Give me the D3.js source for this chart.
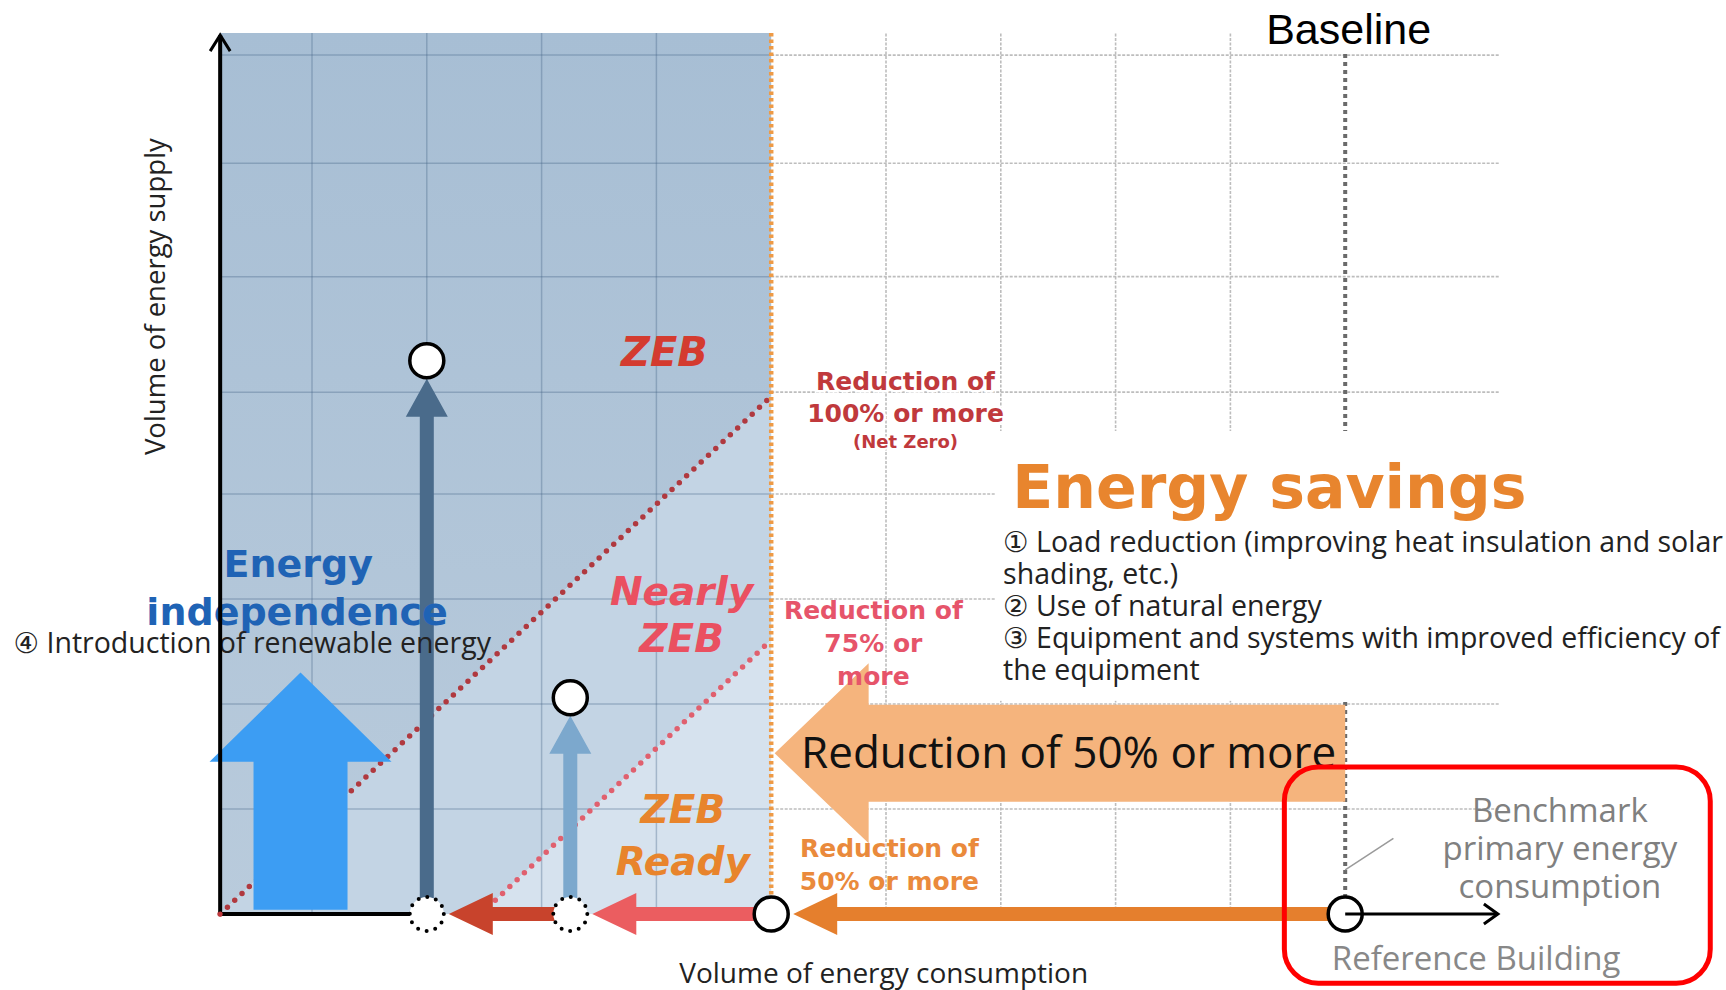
<!DOCTYPE html>
<html>
<head>
<meta charset="utf-8">
<script src="https://cdn.jsdelivr.net/npm/d3@7/dist/d3.min.js"></script>
<style>
  html, body { margin: 0; padding: 0; background: #fff; }
  svg { display: block; }
</style>
</head>
<body>
<svg id="chart" width="1726" height="990"></svg>
<script>
// ---- values (grid units) ----
var gridX = [1, 2, 3, 4, 6, 7, 8, 9];
var gridY = [1, 2, 3, 4, 4.97, 6.07, 7.15, 8.18];
var axisX0 = 0.2, zoneRight = 5, baselineX = 10, gridRight = 11.35, zoneTop = 8.39;

// dotted threshold lines: x where they meet the axis, y where they meet the ZEB line
var thresholds = [
  {name: 'zeb',    x0: 0.2,  y1: 4.93, color: '#b0393f'},
  {name: 'nearly', x0: 2.47, y1: 2.61, color: '#e0606e'}
];

// circles on the consumption axis
var nodes = [
  {x: 2,    dotted: true},
  {x: 3.25, dotted: true},
  {x: 5,    dotted: false},
  {x: 10,   dotted: false}
];

// supply (up) arrows ending in a circle
var supplyArrows = [
  {x: 2,    top: 5.27, color: '#4a6b8b'},
  {x: 3.25, top: 2.06, color: '#7ca8cd'}
];

// saving (left) arrows along the axis
var savingArrows = [
  {from: 10,   to: 5,    color: '#e57f2d'},
  {from: 5,    to: 3.25, color: '#eb5d60'},
  {from: 3.25, to: 2,    color: '#c8432c'}
];

var renewable = {x: 0.9, tip: 2.3, headBase: 1.45, bottom: 0.04};
var bigSaving = {from: 10, to: 5.03, y: 1.53};

var savingMeasures = [
  '\u2460 Load reduction (improving heat insulation and solar',
  'shading, etc.)',
  '\u2461 Use of natural energy',
  '\u2462 Equipment and systems with improved efficiency of',
  'the equipment'
];

// ---- scales ----
var svg = d3.select('#chart');
var x = d3.scaleLinear().domain([0, 10]).range([197.2, 1345.2]);
var y = d3.scaleLinear().domain([0, 8]).range([914, 74]);
var R = 17;
var line = d3.line().x(function(d){ return x(d[0]); }).y(function(d){ return y(d[1]); });

var defs = svg.append('defs');
var grad = defs.append('linearGradient').attr('id', 'zoneDark')
  .attr('x1', 0).attr('y1', 0).attr('x2', 0).attr('y2', 1);
grad.append('stop').attr('offset', '0%').attr('stop-color', '#a7bed4');
grad.append('stop').attr('offset', '100%').attr('stop-color', '#b9cbdc');

// ---- white area grid ----
var gWhite = svg.append('g').attr('class', 'grid-white')
  .attr('stroke', '#bdbdbd').attr('stroke-width', 1.6).attr('stroke-dasharray', '3 1.5');
gWhite.selectAll('line.v').data(gridX.filter(function(d){ return d > zoneRight; }))
  .enter().append('line').attr('class', 'v')
  .attr('x1', function(d){ return x(d); }).attr('x2', function(d){ return x(d); })
  .attr('y1', y(0)).attr('y2', y(zoneTop));
gWhite.selectAll('line.h').data(gridY)
  .enter().append('line').attr('class', 'h')
  .attr('x1', x(zoneRight)).attr('x2', x(gridRight))
  .attr('y1', function(d){ return y(d); }).attr('y2', function(d){ return y(d); });

// baseline
svg.append('line')
  .attr('x1', x(baselineX)).attr('x2', x(baselineX))
  .attr('y1', y(0)).attr('y2', y(8.22))
  .attr('stroke', '#6a6a6a').attr('stroke-width', 4).attr('stroke-dasharray', '4 4');

// white block behind the energy savings list
svg.append('rect')
  .attr('x', x(6.95)).attr('y', y(4.6))
  .attr('width', x(14) - x(6.95)).attr('height', y(2.03) - y(4.6))
  .attr('fill', '#fff');

// ---- ZEB zone ----
var gZone = svg.append('g').attr('class', 'zone');
gZone.append('path').attr('fill', 'url(#zoneDark)')
  .attr('d', line([[axisX0, 0], [axisX0, zoneTop], [zoneRight, zoneTop], [zoneRight, thresholds[0].y1]]) + 'Z');
gZone.append('path').attr('fill', '#c3d4e4')
  .attr('d', line([[thresholds[0].x0, 0], [zoneRight, thresholds[0].y1], [zoneRight, thresholds[1].y1], [thresholds[1].x0, 0]]) + 'Z');
gZone.append('path').attr('fill', '#d6e2ee')
  .attr('d', line([[thresholds[1].x0, 0], [zoneRight, thresholds[1].y1], [zoneRight, 0]]) + 'Z');

var gBlueGrid = svg.append('g').attr('stroke', 'rgba(70,100,135,0.35)').attr('stroke-width', 1.5);
gBlueGrid.selectAll('line.v').data(gridX.filter(function(d){ return d < zoneRight; }))
  .enter().append('line').attr('class', 'v')
  .attr('x1', function(d){ return x(d); }).attr('x2', function(d){ return x(d); })
  .attr('y1', y(0)).attr('y2', y(zoneTop));
gBlueGrid.selectAll('line.h').data(gridY)
  .enter().append('line').attr('class', 'h')
  .attr('x1', x(axisX0)).attr('x2', x(zoneRight))
  .attr('y1', function(d){ return y(d); }).attr('y2', function(d){ return y(d); });

svg.selectAll('path.threshold').data(thresholds)
  .enter().append('path').attr('class', 'threshold')
  .attr('d', function(d){ return line([[d.x0, 0], [zoneRight, d.y1]]); })
  .attr('stroke', function(d){ return d.color; })
  .attr('stroke-width', 5.5).attr('stroke-linecap', 'round').attr('stroke-dasharray', '0 10')
  .attr('fill', 'none');

svg.append('line')
  .attr('x1', x(zoneRight)).attr('x2', x(zoneRight))
  .attr('y1', y(0)).attr('y2', y(zoneTop))
  .attr('stroke', '#ee9a45').attr('stroke-width', 4.5).attr('stroke-dasharray', '3.5 3');

// ---- arrows ----
function arrowLeft(x0, xTip, yc, sh, hh, hl){
  return 'M' + x0 + ',' + (yc - sh) + 'L' + (xTip + hl) + ',' + (yc - sh) + 'L' + (xTip + hl) + ',' + (yc - hh) +
    'L' + xTip + ',' + yc + 'L' + (xTip + hl) + ',' + (yc + hh) + 'L' + (xTip + hl) + ',' + (yc + sh) +
    'L' + x0 + ',' + (yc + sh) + 'Z';
}
function arrowUp(xc, y0, yTip, sh, hh, hl){
  return 'M' + (xc - sh) + ',' + y0 + 'L' + (xc - sh) + ',' + (yTip + hl) + 'L' + (xc - hh) + ',' + (yTip + hl) +
    'L' + xc + ',' + yTip + 'L' + (xc + hh) + ',' + (yTip + hl) + 'L' + (xc + sh) + ',' + (yTip + hl) +
    'L' + (xc + sh) + ',' + y0 + 'Z';
}

svg.append('path').attr('fill', '#f5b47d')
  .attr('d', arrowLeft(x(bigSaving.from), x(bigSaving.to), y(bigSaving.y), 48.5, 90, 94));

svg.append('path').attr('fill', '#3c9df3')
  .attr('d', arrowUp(x(renewable.x), y(renewable.bottom), y(renewable.tip), 47, 91, y(renewable.headBase) - y(renewable.tip)));

svg.selectAll('path.supply').data(supplyArrows)
  .enter().append('path').attr('class', 'supply')
  .attr('fill', function(d){ return d.color; })
  .attr('d', function(d){ return arrowUp(x(d.x), y(0), y(d.top) + R + 1, 7, 21, 38); });

svg.selectAll('path.saving').data(savingArrows)
  .enter().append('path').attr('class', 'saving')
  .attr('fill', function(d){ return d.color; })
  .attr('d', function(d){ return arrowLeft(x(d.from), x(d.to) + R + 5, y(0), 7, 21, 44); });

// ---- texts ----
var sans = "'Open Sans', 'DejaVu Sans', sans-serif";
var boldFace = "'DejaVu Sans', Verdana, sans-serif";
function label(lines, ux, vy, o){
  var t = svg.append('text')
    .attr('x', x(ux)).attr('y', y(vy))
    .attr('text-anchor', o.anchor || 'middle')
    .attr('font-family', o.family || sans)
    .attr('font-size', o.size)
    .attr('font-weight', o.weight || 'normal')
    .attr('font-style', o.style || 'normal')
    .attr('fill', o.color);
  if (o.halo) t.attr('stroke', '#fff').attr('stroke-width', o.halo).attr('paint-order', 'stroke');
  lines.forEach(function(s, i){
    t.append('tspan').attr('x', x(ux)).attr('dy', i ? o.lh : 0).text(s);
  });
  return t;
}

label(['Baseline'], 10.03, 8.29, {family: "'Liberation Sans', Arial, sans-serif", size: 43, color: '#000'});

svg.append('text')
  .attr('transform', 'translate(' + x(-0.28) + ',' + y(5.88) + ') rotate(-90)')
  .attr('text-anchor', 'middle').attr('font-family', sans).attr('font-size', 27.5).attr('fill', '#222')
  .text('Volume of energy supply');
label(['Volume of energy consumption'], 5.98, -0.66, {size: 28, color: '#222'});

label(['ZEB'], 4.07, 5.22, {family: boldFace, size: 40, weight: 'bold', style: 'italic', color: '#d43b2f'});
label(['Nearly', 'ZEB'], 4.22, 2.94, {family: boldFace, size: 39, weight: 'bold', style: 'italic', color: '#ea5060', lh: 47});
label(['ZEB', 'Ready'], 4.23, 0.87, {family: boldFace, size: 39, weight: 'bold', style: 'italic', color: '#e8842c', lh: 52});

label(['Reduction of', '100% or more'], 6.17, 4.99, {family: boldFace, size: 25, weight: 'bold', color: '#c0393c', lh: 32, halo: 5});
label(['(Net Zero)'], 6.17, 4.44, {family: boldFace, size: 18, weight: 'bold', color: '#c0393c', halo: 4});
label(['Reduction of', '75% or', 'more'], 5.89, 2.81, {family: boldFace, size: 25, weight: 'bold', color: '#e6546a', lh: 33});
label(['Reduction of', '50% or more'], 6.03, 0.54, {family: boldFace, size: 25, weight: 'bold', color: '#ea8a3c', lh: 33});

label(['Energy savings'], 7.1, 3.87, {family: boldFace, size: 60, weight: 'bold', color: '#e8852e', anchor: 'start'});
label(savingMeasures, 7.02, 3.45, {size: 28.5, color: '#222', anchor: 'start', lh: 32});

label(['Energy'], 0.88, 3.21, {family: boldFace, size: 38, weight: 'bold', color: '#1f63b5'});
label(['independence'], 0.87, 2.75, {family: boldFace, size: 38, weight: 'bold', color: '#1f63b5'});
label(['\u2463 Introduction of renewable energy'], -1.6, 2.49, {size: 28.5, color: '#222', anchor: 'start'});

label(['Reduction of 50% or more'], 5.26, 1.39, {size: 44, color: '#111', anchor: 'start'});

label(['Benchmark', 'primary energy', 'consumption'], 11.87, 0.88, {size: 33, color: '#808080', lh: 38});
label(['Reference Building'], 11.14, -0.53, {size: 33, color: '#888'});

// ---- circles ----
svg.selectAll('circle.node').data(nodes)
  .enter().append('circle').attr('class', 'node')
  .attr('cx', function(d){ return x(d.x); }).attr('cy', y(0)).attr('r', R)
  .attr('fill', '#fff').attr('stroke', '#000')
  .attr('stroke-width', function(d){ return d.dotted ? 4 : 3.5; })
  .attr('stroke-linecap', 'round')
  .attr('stroke-dasharray', function(d){ return d.dotted ? '0 8.9' : null; });
svg.selectAll('circle.top').data(supplyArrows)
  .enter().append('circle').attr('class', 'top')
  .attr('cx', function(d){ return x(d.x); }).attr('cy', function(d){ return y(d.top); }).attr('r', R)
  .attr('fill', '#fff').attr('stroke', '#000').attr('stroke-width', 3.5);

// ---- axes ----
var gAxis = svg.append('g').attr('fill', 'none').attr('stroke', '#000').attr('stroke-width', 4);
gAxis.append('path').attr('d', line([[axisX0, 0], [axisX0, 8.37]]));
gAxis.append('path').attr('d', 'M' + (x(axisX0) - 10) + ',' + (y(8.37) + 16) + 'L' + x(axisX0) + ',' + y(8.37) + 'L' + (x(axisX0) + 10) + ',' + (y(8.37) + 16))
  .attr('stroke-width', 3);
gAxis.append('path').attr('d', line([[axisX0, 0], [nodes[0].x, 0]]));
gAxis.append('path').attr('d', line([[baselineX, 0], [11.33, 0]])).attr('stroke-width', 3);
gAxis.append('path').attr('d', 'M' + (x(11.33) - 14) + ',' + (y(0) - 10) + 'L' + x(11.33) + ',' + y(0) + 'L' + (x(11.33) - 14) + ',' + (y(0) + 10))
  .attr('stroke-width', 3);
svg.append('circle').attr('cx', x(axisX0)).attr('cy', y(0)).attr('r', 2.5).attr('fill', '#c0393c');
svg.select('circle.node').raise();

// ---- annotation ----
svg.append('path').attr('d', line([[10, 0.42], [10.42, 0.72]]))
  .attr('stroke', '#9a9a9a').attr('stroke-width', 1.5);
svg.append('rect')
  .attr('x', x(9.47)).attr('y', y(1.4))
  .attr('width', x(13.18) - x(9.47)).attr('height', y(-0.66) - y(1.4))
  .attr('rx', 34).attr('fill', 'none').attr('stroke', '#ff0000').attr('stroke-width', 5);
</script>
</body>
</html>
